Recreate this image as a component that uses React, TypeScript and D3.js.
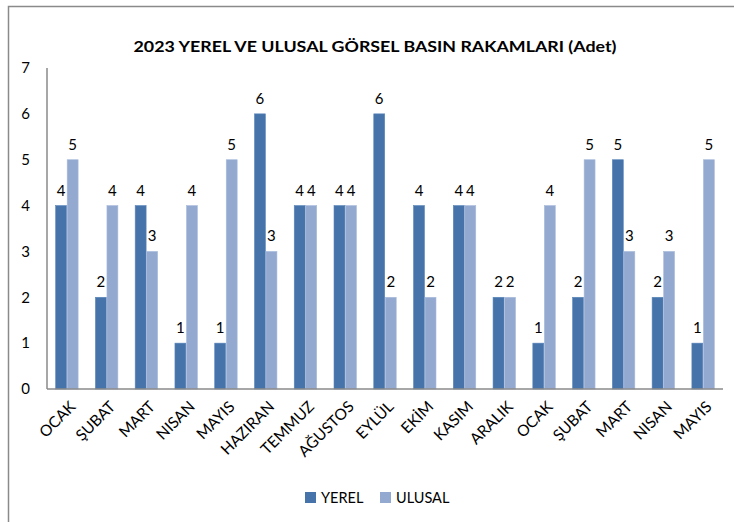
import React, { useRef, useEffect } from 'react';
import * as d3 from 'd3';

const months = ['OCAK', 'ŞUBAT', 'MART', 'NISAN', 'MAYIS', 'HAZIRAN', 'TEMMUZ', 'AĞUSTOS', 'EYLÜL', 'EKİM', 'KASIM', 'ARALIK', 'OCAK', 'ŞUBAT', 'MART', 'NISAN', 'MAYIS'];
const yerel = [4, 2, 4, 1, 1, 6, 4, 4, 6, 4, 4, 2, 1, 2, 5, 2, 1];
const ulusal = [5, 4, 3, 4, 5, 3, 4, 4, 2, 2, 4, 2, 4, 5, 3, 3, 5];
const seriesNames = ['YEREL', 'ULUSAL'];
const seriesColors = ['#4673A9', '#94A9D0'];
const yTicks = [0, 1, 2, 3, 4, 5, 6, 7];

const FONT = 'Lato, "Open Sans", sans-serif';

export default function App() {
  const svgRef = useRef<SVGSVGElement>(null);

  useEffect(() => {
    if (!svgRef.current) return;
    const svg = d3.select(svgRef.current);
    svg.selectAll('*').remove();

    const margin = { left: 47, right: 723, top: 68, bottom: 389 };

    // outer frame (right/bottom run off the picture)
    svg.append('path')
      .attr('d', 'M 8.5 530 L 8.5 6.5 L 745 6.5')
      .attr('fill', 'none')
      .attr('stroke', '#8a8a8a')
      .attr('stroke-width', 1.5);

    svg.append('text')
      .attr('x', 375)
      .attr('y', 52)
      .attr('text-anchor', 'middle')
      .attr('font-family', FONT)
      .attr('font-weight', 'bold')
      .attr('font-size', '15px')
      .attr('textLength', 483)
      .attr('lengthAdjust', 'spacingAndGlyphs')
      .attr('fill', '#000')
      .text('2023 YEREL VE ULUSAL GÖRSEL BASIN RAKAMLARI (Adet)');

    const idx = months.map((_, i) => String(i));
    const x0 = d3.scaleBand().domain(idx).range([margin.left, margin.right]).paddingInner(0.42).paddingOuter(0.21);
    const x1 = d3.scaleBand().domain(seriesNames).range([0, x0.bandwidth()]);
    const y = d3.scaleLinear().domain([0, 7]).range([margin.bottom, margin.top]);

    // y tick labels
    svg.append('g').selectAll('text').data(yTicks).join('text')
      .attr('x', 30)
      .attr('y', d => y(d))
      .attr('dy', '0.35em')
      .attr('text-anchor', 'end')
      .attr('font-family', FONT)
      .attr('font-size', '15px')
      .attr('fill', '#000')
      .text(d => d);

    const data = months.map((m, i) => ({ i: String(i), m, vals: [yerel[i], ulusal[i]] }));

    const groups = svg.append('g').selectAll('g').data(data).join('g')
      .attr('transform', d => `translate(${x0(d.i)},0)`);

    groups.selectAll('rect').data(d => d.vals.map((v, k) => ({ v, k }))).join('rect')
      .attr('x', d => x1(seriesNames[d.k])! + 0.3)
      .attr('y', d => y(d.v))
      .attr('width', x1.bandwidth() - 0.6)
      .attr('height', d => y(0) - y(d.v))
      .attr('fill', d => seriesColors[d.k])
      .attr('stroke', d => d.k === 0 ? '#5a86ba' : '#a9bbdc')
      .attr('stroke-width', 0.6);

    groups.selectAll('text.val').data(d => d.vals.map((v, k) => ({ v, k }))).join('text')
      .attr('class', 'val')
      .attr('x', d => x1(seriesNames[d.k])! + x1.bandwidth() / 2)
      .attr('y', d => y(d.v) - 10)
      .attr('text-anchor', 'middle')
      .attr('font-family', FONT)
      .attr('font-size', '15px')
      .attr('fill', '#000')
      .text(d => d.v);

    // axes lines
    svg.append('line')
      .attr('x1', margin.left).attr('x2', margin.left)
      .attr('y1', margin.top).attr('y2', margin.bottom)
      .attr('stroke', '#8a8a8a').attr('stroke-width', 1.5);
    svg.append('line')
      .attr('x1', margin.left).attr('x2', margin.right)
      .attr('y1', margin.bottom).attr('y2', margin.bottom)
      .attr('stroke', '#8a8a8a').attr('stroke-width', 1.5);

    // category labels
    svg.append('g').selectAll('text').data(data).join('text')
      .attr('transform', d => `translate(${x0(d.i)! + x0.bandwidth() / 2 + 2},${400}) rotate(-45)`)
      .attr('text-anchor', 'end')
      .attr('dy', '0.7em')
      .attr('font-family', FONT)
      .attr('font-size', '15.5px')
      .attr('fill', '#000')
      .text(d => d.m);

    // legend
    const legend = [
      { name: 'YEREL', color: seriesColors[0], x: 305 },
      { name: 'ULUSAL', color: seriesColors[1], x: 380 },
    ];
    const lg = svg.append('g');
    legend.forEach(l => {
      lg.append('rect')
        .attr('x', l.x).attr('y', 492)
        .attr('width', 11).attr('height', 11)
        .attr('fill', l.color);
      lg.append('text')
        .attr('x', l.x + 16).attr('y', 502.5)
        .attr('font-family', FONT)
        .attr('font-size', '14.5px')
        .attr('fill', '#000')
        .text(l.name);
    });
  }, []);

  return (
    <svg ref={svgRef} width={734} height={522}
      style={{ position: 'absolute', left: 0, top: 0, background: '#fff', display: 'block' }} />
  );
}
